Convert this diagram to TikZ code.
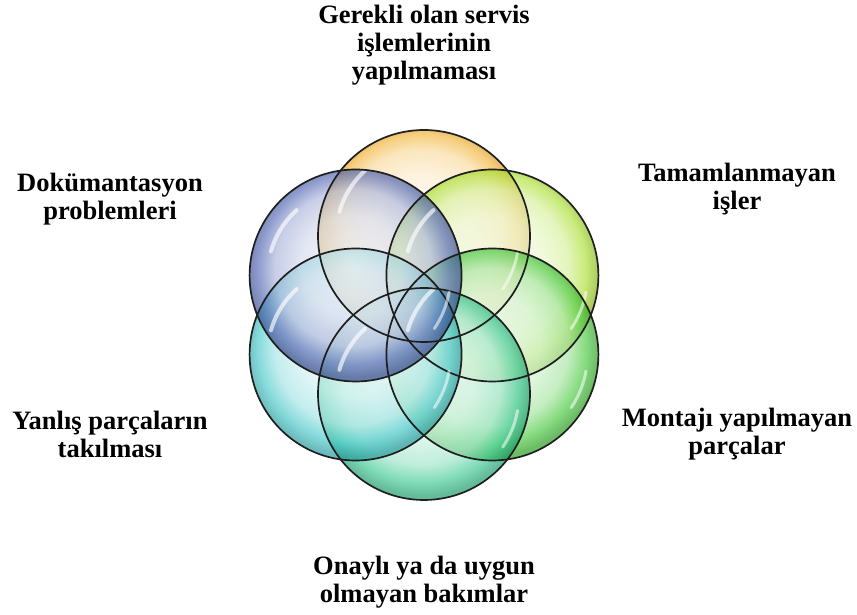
\documentclass[tikz,border=0pt]{standalone}
\usepackage{fontspec}
\setmainfont{Liberation Serif}

% Bubble colours
\definecolor{cOrange}{HTML}{F0A818}
\definecolor{cLime}{HTML}{A0DC18}
\definecolor{cGreen}{HTML}{30C224}
\definecolor{cTeal}{HTML}{22C284}
\definecolor{cCyan}{HTML}{2EC0C2}
\definecolor{cBlue}{HTML}{3A52A8}

% Glassy radial shading: pale centre, saturated band at the rim
\newcommand\declarebubble[2]{%
  \pgfdeclareradialshading{bubble#1}{\pgfpoint{-1bp}{3bp}}{%
    color(0bp)=(#2!9!white); color(12bp)=(#2!20!white);
    color(18.5bp)=(#2!42!white); color(22.5bp)=(#2!85!white);
    color(25.5bp)=(#2!80!black); color(50bp)=(#2!80!black)}}
\declarebubble{A}{cOrange}
\declarebubble{B}{cLime}
\declarebubble{C}{cGreen}
\declarebubble{D}{cTeal}
\declarebubble{E}{cCyan}
\declarebubble{F}{cBlue}

\begin{document}
\begin{tikzpicture}[x=1pt,y=1pt,
  bubble/.style={circle, minimum size=212pt, inner sep=0pt,
    shading=#1, fill opacity=0.68},
  rim/.style={draw=black!88, line width=1.7pt},
  glare/.style={draw=white, line width=4pt, line cap=round, opacity=0.65},
  softglare/.style={draw=white, line width=3pt, line cap=round, opacity=0.55},
  label/.style={font=\bfseries\fontsize{26.5}{28}\selectfont, align=center,
    text=black}]
\useasboundingbox (0,0) rectangle (857,615);

\coordinate (C) at (424,300);

% Six overlapping bubbles, clockwise from the top
\foreach \n/\a/\s in {b1/90/bubbleA, b2/30/bubbleB, b3/-30/bubbleC,
                      b4/-90/bubbleD, b5/210/bubbleE, b6/150/bubbleF}{
  \node[bubble=\s] (\n) at ([shift={(\a:79)}]C) {};
}
% Outlines and reflections above all fills
\foreach \n in {b1,b2,b3,b4,b5,b6}{
  \draw[rim] (\n.center) circle[radius=106];
  \draw[glare] ([shift={(132:88)}]\n.center) arc[start angle=132, end angle=164, radius=88];
  \draw[softglare] ([shift={(-34:95)}]\n.center) arc[start angle=-34, end angle=-10, radius=95];
}

% Labels
\node[label] (t1) at (424,570) {Gerekli olan servis\\işlemlerinin\\yapılmaması};
\node[label] (t2) at (737,426) {Tamamlanmayan\\işler};
\node[label] (t3) at (737,181) {Montajı yapılmayan\\parçalar};
\node[label] (t4) at (424,33) {Onaylı ya da uygun\\olmayan bakımlar};
\node[label] (t5) at (110,181) {Yanlış parçaların\\takılması};
\node[label] (t6) at (110,416) {Dokümantasyon\\problemleri};
\end{tikzpicture}
\end{document}
